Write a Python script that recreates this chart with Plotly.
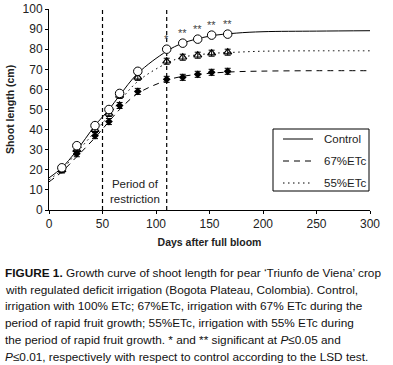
import plotly.graph_objects as go

FONT = "Liberation Sans, Arial, sans-serif"

# measured points
days = [12, 26, 43, 56, 66, 83, 110, 125, 139, 152, 167]
control = [21, 32, 42, 50, 58, 69, 80, 83, 85, 87, 87.5]
etc67 = [20, 28, 37, 44, 52, 59, 65, 66, 67.5, 68.5, 69]
etc55 = [20, 30, 40, 48, 57, 66, 74, 76, 77, 78, 78.5]
err67 = [1.5] * len(days)
err55 = [1.5] * len(days)

# fitted curves
curve_days = [0, 12, 25, 43, 56, 66, 83, 110, 125, 150, 175, 200, 250, 300]
curve_control = [16, 21, 29, 42, 50, 57, 68, 79, 83, 86.5, 88, 88.7, 89, 89.2]
curve_67 = [14, 19, 26, 36, 44, 50, 58, 64.5, 66.5, 68, 68.8, 69.1, 69.3, 69.3]
curve_55 = [15, 20, 28, 39, 47, 54, 64, 73, 76, 77.8, 78.5, 79, 79.2, 79.2]

sig_days = [110, 125, 139, 152, 167]
sig_y = [80, 83, 85, 87, 87.5]
sig_text = ["*", "**", "**", "**", "**"]

restriction_start = 50
restriction_end = 110

series_names = ["Control", "67%ETc", "55%ETc"]
series_dash = ["solid", "6px,5px", "1.5px,3.5px"]

caption_lines = [
    "<b>FIGURE 1.</b> Growth curve of shoot length for pear ‘Triunfo de Viena’ crop",
    "with regulated deficit irrigation (Bogota Plateau, Colombia). Control,",
    "irrigation with 100% ETc; 67%ETc, irrigation with 67% ETc during the",
    "period of rapid fruit growth; 55%ETc, irrigation with 55% ETc during",
    "the period of rapid fruit growth. * and ** significant at <i>P</i>≤0.05 and",
    "<i>P</i>≤0.01, respectively with respect to control according to the LSD test.",
]

# pixel geometry of the plot area
PL, PR, PT, PB = 49, 370, 9, 210


def px(x):
    return (x - PL) / (PR - PL)


def py(y):
    return (PB - y) / (PB - PT)


fig = go.Figure()

for yv, name, dash in zip([curve_control, curve_67, curve_55], series_names, series_dash):
    fig.add_trace(go.Scatter(x=curve_days, y=yv, mode="lines", name=name, showlegend=False,
                             line=dict(color="black", width=1, dash=dash, shape="spline")))

fig.add_trace(go.Scatter(x=days, y=etc67, mode="markers", showlegend=False,
                         error_y=dict(type="data", array=err67, color="black", thickness=1, width=3),
                         marker=dict(symbol="diamond", size=6, color="black")))
fig.add_trace(go.Scatter(x=days, y=etc55, mode="markers", showlegend=False,
                         error_y=dict(type="data", array=err55, color="black", thickness=1, width=3),
                         marker=dict(symbol="triangle-up-open", size=7, color="black",
                                     line=dict(width=1.2, color="black"))))
fig.add_trace(go.Scatter(x=days, y=control, mode="markers", showlegend=False,
                         marker=dict(symbol="circle", size=8.5, color="white",
                                     line=dict(width=1, color="black"))))

# significance marks above the control points
for xv, yv, t in zip(sig_days, sig_y, sig_text):
    fig.add_annotation(x=xv, y=yv, xref="x", yref="y", text=t, showarrow=False,
                       yanchor="bottom", yshift=2, bgcolor="rgba(0,0,0,0)",
                       font=dict(family=FONT, size=11, color="#444"))

for xv in (restriction_start, restriction_end):
    fig.add_shape(type="line", x0=xv, x1=xv, y0=0, y1=100, xref="x", yref="y", layer="below",
                  line=dict(color="black", width=1.2, dash="4px,3px"))

fig.add_annotation(x=(restriction_start + restriction_end) / 2, y=9, xref="x", yref="y",
                   text="Period of<br>restriction", showarrow=False,
                   font=dict(family=FONT, size=11.5, color="#222"), align="center")

# legend box drawn by hand
fig.add_shape(type="rect", xref="paper", yref="paper",
              x0=px(273), x1=px(369), y0=py(191), y1=py(129),
              line=dict(color="black", width=1), fillcolor="white")
for i, (name, dash) in enumerate(zip(series_names, series_dash)):
    row_y = 139 + i * 22
    fig.add_shape(type="line", xref="paper", yref="paper",
                  x0=px(283), x1=px(313), y0=py(row_y), y1=py(row_y),
                  line=dict(color="black", width=1, dash=dash))
    fig.add_annotation(x=px(322), y=py(row_y), xref="paper", yref="paper",
                       xanchor="left", yanchor="middle", text=name, showarrow=False,
                       font=dict(family=FONT, size=11.5, color="#222"))

for i, line in enumerate(caption_lines):
    baseline = 277 + i * 16.7
    center = baseline - 4
    fig.add_annotation(x=px(3), y=py(center), xref="paper", yref="paper",
                       xanchor="left", yanchor="middle", text=line, showarrow=False,
                       align="left", font=dict(family=FONT, size=11.8, color="#111"))

fig.update_layout(
    width=393, height=365,
    margin=dict(l=PL, r=393 - PR, t=PT, b=365 - PB),
    paper_bgcolor="white", plot_bgcolor="white",
    font=dict(family=FONT, size=12, color="#222"),
    showlegend=False,
    hovermode=False,
    xaxis=dict(range=[0, 300], tickvals=[0, 50, 100, 150, 200, 250, 300],
               showline=True, linecolor="black", linewidth=1, ticks="outside",
               ticklen=3, tickcolor="black", showgrid=False, zeroline=False, automargin=False,
               title=dict(text="<b>Days after full bloom</b>", font=dict(size=10.5), standoff=8)),
    yaxis=dict(range=[0, 100], tickvals=list(range(0, 101, 10)),
               showline=True, linecolor="black", linewidth=1, ticks="outside",
               ticklen=3, tickcolor="black", showgrid=False, zeroline=False, automargin=False,
               title=dict(text="<b>Shoot length (cm)</b>", font=dict(size=10.5), standoff=5)),
)

fig.write_html("out.html", config={"displayModeBar": False},
               post_script="document.body.style.margin='0';")
